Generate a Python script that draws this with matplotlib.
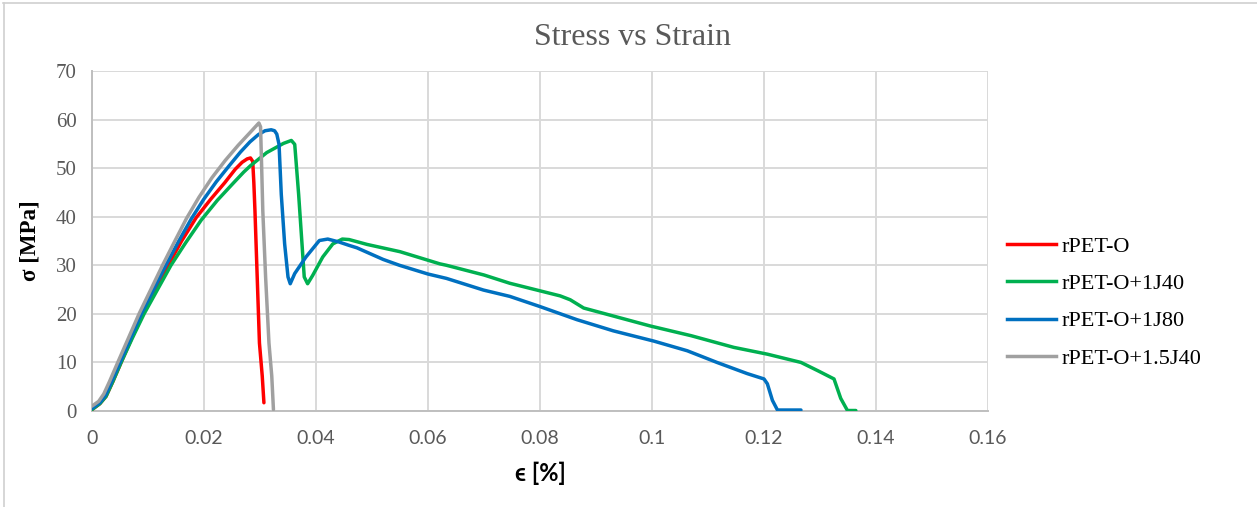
import matplotlib
matplotlib.use("Agg")
import matplotlib.pyplot as plt
from matplotlib.lines import Line2D

# ---- data ----
red_strain = [0.0, 0.0014, 0.0025, 0.0037, 0.0052, 0.0071, 0.0091, 0.0113, 0.0136, 0.016,
              0.0186, 0.0212, 0.0237, 0.0256, 0.0268, 0.0277, 0.0283, 0.0287, 0.0289, 0.0291,
              0.0295, 0.0299, 0.0304, 0.0307]
red_stress = [0.3, 1.5, 3.0, 6.0, 10.0, 15.0, 20.0, 25.0, 30.0, 35.0,
              39.8, 43.6, 47.0, 49.8, 51.2, 51.9, 52.1, 51.4, 47.0, 41.2,
              27.6, 14.0, 7.2, 1.7]

green_strain = [0.0, 0.0014, 0.0025, 0.0037, 0.0052, 0.0072, 0.0093, 0.0117, 0.0141, 0.0167,
                0.0195, 0.0224, 0.0253, 0.0271, 0.0283, 0.0312, 0.0342, 0.0356, 0.0362, 0.0365,
                0.0369, 0.0375, 0.0379, 0.0385, 0.0394, 0.0412, 0.043, 0.0447, 0.0459, 0.0491,
                0.055, 0.0621, 0.0633, 0.07, 0.0746, 0.0836, 0.0854, 0.0878, 0.0907, 0.0997,
                0.107, 0.1146, 0.1206, 0.1266, 0.1296, 0.1325, 0.1337, 0.1349, 0.1364]
green_stress = [0.3, 1.5, 3.0, 6.0, 10.0, 15.0, 20.0, 25.0, 30.0, 34.6,
                39.3, 43.4, 47.0, 49.2, 50.5, 53.2, 55.1, 55.7, 54.9, 50.5,
                44.6, 34.4, 27.6, 26.2, 27.9, 31.7, 34.4, 35.4, 35.3, 34.3,
                32.8, 30.3, 30.0, 28.0, 26.3, 23.7, 22.9, 21.2, 20.3, 17.5,
                15.5, 13.1, 11.7, 10.0, 8.3, 6.6, 2.6, 0.1, 0.1]

blue_strain = [0.0, 0.0014, 0.0024, 0.0035, 0.005, 0.0069, 0.0088, 0.011, 0.0132, 0.0155,
               0.0177, 0.0199, 0.0222, 0.0245, 0.0265, 0.0282, 0.0297, 0.0309, 0.032, 0.0326,
               0.033, 0.0334, 0.0338, 0.0344, 0.035, 0.0354, 0.0362, 0.0382, 0.0406, 0.0421,
               0.0441, 0.0459, 0.0473, 0.052, 0.0549, 0.06, 0.0633, 0.0699, 0.0746, 0.08,
               0.0866, 0.0931, 0.1003, 0.1063, 0.1116, 0.117, 0.12, 0.1206, 0.1215, 0.1224,
               0.1266]
blue_stress = [0.5, 1.7, 3.2, 6.0, 10.0, 15.0, 20.0, 25.0, 30.0, 35.0,
               39.5, 43.5, 47.2, 50.5, 53.3, 55.4, 56.9, 57.7, 57.9, 57.7,
               57.0, 54.9, 44.6, 34.4, 27.6, 26.2, 28.3, 31.7, 35.1, 35.4,
               34.8, 34.1, 33.6, 31.2, 30.0, 28.2, 27.3, 24.9, 23.6, 21.5,
               18.8, 16.5, 14.4, 12.4, 10.0, 7.7, 6.6, 5.6, 2.2, 0.2,
               0.2]

gray_strain = [0.0, 0.0012, 0.0021, 0.0031, 0.0046, 0.0065, 0.0084, 0.0105, 0.0126, 0.0148,
               0.0169, 0.0191, 0.0214, 0.0238, 0.0261, 0.0282, 0.0298, 0.0301, 0.0303, 0.0305,
               0.031, 0.0316, 0.0321, 0.0324]
gray_stress = [1.0, 2.0, 3.5, 6.0, 10.0, 15.0, 20.0, 25.0, 30.0, 35.0,
               39.7, 44.0, 48.0, 51.6, 54.7, 57.3, 59.3, 58.5, 50.0, 41.2,
               27.6, 14.0, 7.2, 0.3]

series_names = ["rPET-O", "rPET-O+1J40", "rPET-O+1J80", "rPET-O+1.5J40"]
series_colors = ["#ff0000", "#00b050", "#0070c0", "#a0a0a0"]
x_ticks = [0, 0.02, 0.04, 0.06, 0.08, 0.1, 0.12, 0.14, 0.16]
x_tick_labels = ["0", "0.02", "0.04", "0.06", "0.08", "0.1", "0.12", "0.14", "0.16"]
y_ticks = [0, 10, 20, 30, 40, 50, 60, 70]

W, H = 1257, 507
fig = plt.figure(figsize=(W / 100, H / 100), dpi=100)
ax = fig.add_axes([92 / W, 1 - 411 / H, (988 - 92) / W, (411 - 71) / H])

data = [(red_strain, red_stress), (green_strain, green_stress),
        (blue_strain, blue_stress), (gray_strain, gray_stress)]
for i, (xs, ys) in enumerate(data):
    ax.plot(xs, ys, color=series_colors[i], lw=2.5, solid_capstyle="round",
            solid_joinstyle="round", zorder=3)

ax.set_xlim(0, 0.16)
ax.set_ylim(0, 70)
ax.set_xticks(x_ticks)
ax.set_xticklabels(x_tick_labels, fontfamily="Lato", fontsize=14, color="#595959")
ax.set_yticks(y_ticks)
ax.set_yticklabels([str(v) for v in y_ticks], fontfamily="Liberation Serif",
                   fontsize=15, color="#595959")
ax.tick_params(axis="both", length=0)
ax.tick_params(axis="x", pad=14)
ax.tick_params(axis="y", pad=11)
ax.grid(True, color="#d9d9d9", lw=1.4, zorder=0)
ax.set_axisbelow(True)
for s in ["top", "right"]:
    ax.spines[s].set_visible(False)
for s in ["left", "bottom"]:
    ax.spines[s].set_color("#bfbfbf")
    ax.spines[s].set_linewidth(1.4)

ax.set_xlabel("ϵ [%]", fontfamily="Lato", fontweight="bold", fontsize=17, labelpad=10)
ax.set_ylabel("σ [MPa]", fontfamily="Liberation Serif", fontweight="bold", fontsize=16.5,
              labelpad=11)

fig.text(632 / W, 1 - 38 / H, "Stress vs Strain", ha="center", va="center",
         fontfamily="Liberation Serif", fontsize=23, color="#595959")

handles = [Line2D([0], [0], color=c, lw=2.5) for c in series_colors]
leg = fig.legend(handles, series_names, loc="center left",
                 bbox_to_anchor=(1007 / W, 1 - 302.5 / H), frameon=False,
                 prop={"family": "Liberation Serif", "size": 16},
                 handlelength=2.2, handletextpad=0.25, labelspacing=0.75,
                 borderpad=0, borderaxespad=0)

# outer border (top and left visible in reference)
fig.add_artist(Line2D([3 / W, 1], [1 - 3 / H, 1 - 3 / H], color="#d0d0d0", lw=1.2,
                      transform=fig.transFigure))
fig.add_artist(Line2D([4 / W, 4 / W], [0, 1 - 3 / H], color="#d0d0d0", lw=1.2,
                      transform=fig.transFigure))

fig.savefig("out.png", dpi=100)
